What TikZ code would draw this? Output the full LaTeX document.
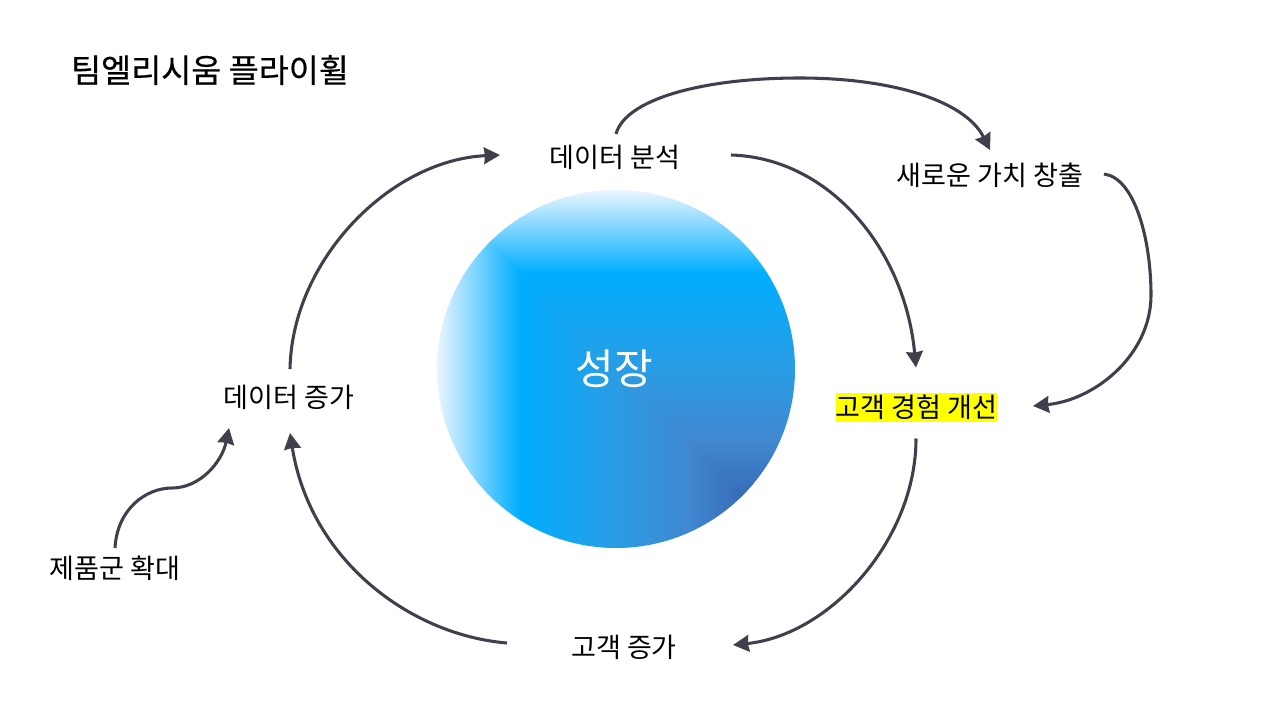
\documentclass[tikz,border=0pt]{standalone}
\usepackage{fontspec}
\usetikzlibrary{arrows.meta,calc}
\newfontfamily\krfont{Noto Sans CJK KR}
\newfontfamily\krtitle[FakeBold=0.5]{Noto Sans CJK KR}
\definecolor{lineC}{HTML}{403F4C}
\definecolor{hiY}{HTML}{FFFF00}
\definecolor{gZ}{HTML}{EAF6FF}
\definecolor{gA}{HTML}{00AEFF}
\definecolor{gB}{HTML}{2A9CE4}
\definecolor{gC}{HTML}{4088D0}
\definecolor{gD}{HTML}{3A72BD}
\definecolor{gE}{HTML}{2050A0}
\pgfdeclarehorizontalshading{orbH}{100bp}{color(0bp)=(gZ); color(25bp)=(gZ); color(36.5bp)=(gA); color(50bp)=(gB); color(60bp)=(gC); color(66bp)=(gD); color(75bp)=(gE); color(100bp)=(gE)}
\pgfdeclareverticalshading{orbV}{100bp}{color(0bp)=(gE); color(25bp)=(gE); color(34bp)=(gD); color(40bp)=(gC); color(50bp)=(gB); color(63.5bp)=(gA); color(75bp)=(gZ); color(100bp)=(gZ)}
\tikzset{
  x=0.75pt,y=-0.75pt,
  lab/.style={font=\krfont\fontsize{20.3pt}{20.3pt}\selectfont,text=black,inner sep=0pt},
  conn/.style={draw=lineC,line width=2.3pt,-{Stealth[length=12pt,width=12.5pt,inset=0.8pt]}},
}
\begin{document}
\begin{tikzpicture}
\useasboundingbox (0,0) rectangle (1280,720);
\fill[white] (0,0) rectangle (1280,720);
% circle: a rectangular path gradient, seen as two mitred linear gradients
\begin{scope}
\clip (616,369) circle[radius=179];
\begin{scope}
\clip (435,190) -- (795,190) -- (795,550) -- cycle;
\shade[shading=orbV] (437,190) rectangle (795,548);
\end{scope}
\clip (437,190) -- (795,548) -- (437,548) -- cycle;
\shade[shading=orbH] (437,190) rectangle (795,548);
\end{scope}
\node[font=\krfont\fontsize{31.5pt}{31.5pt}\selectfont,text=white,inner sep=0pt] (grow) at (614,369) {성장};
\node[font=\krtitle\fontsize{24.5pt}{24.5pt}\selectfont,text=black,inner sep=0pt] (title) at (210,70) {팀엘리시움 플라이휠};
\node[lab] (ana) at (615,157) {데이터 분석};
\node[lab] (val) at (990,175) {새로운 가치 창출};
\node[lab,fill=hiY,minimum width=120.75pt,minimum height=21.75pt] (cx) at (916.5,407.5) {고객 경험 개선};
\node[lab] (cust) at (624,647) {고객 증가};
\node[lab] (data) at (289,397) {데이터 증가};
\node[lab] (prod) at (115,568) {제품군 확대};
% connectors
\draw[conn] ($(ana)+(1,-23)$) .. controls (625,100) and (700,78) .. (800,78) .. controls (890,78) and (965,100) .. ($(val)+(0,-25)$);
\draw[conn] ($(ana)+(116,-2)$) .. controls (830,158) and (905,250) .. ($(cx)+(-0.5,-40)$);
\draw[conn] ($(val)+(114,-1)$) .. controls (1135,178) and (1151,240) .. (1151,295) .. controls (1151,355) and (1095,400) .. ($(cx)+(116.5,-1.5)$);
\draw[conn] ($(cx)+(-0.5,31)$) .. controls (916,540) and (830,635) .. ($(cust)+(109,-2)$);
\draw[conn] ($(cust)+(-117,-4)$) .. controls (410,635) and (310,560) .. ($(data)+(1,36)$);
\draw[conn] ($(data)+(1,-28)$) .. controls (292,260) and (390,160) .. ($(ana)+(-115,-2)$);
\draw[conn] ($(prod)+(0,-20)$) .. controls (117,510) and (145,488) .. (172,488) .. controls (200,488) and (222,462) .. ($(data)+(-60,31)$);
\end{tikzpicture}
\end{document}
